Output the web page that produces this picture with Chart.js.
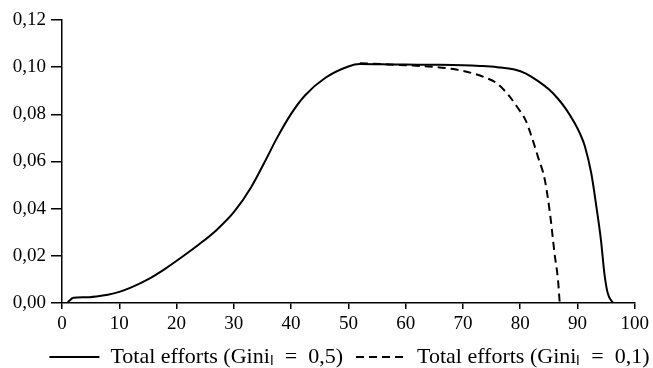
<!DOCTYPE html>
<html>
<head>
<meta charset="utf-8">
<script src="https://cdn.jsdelivr.net/npm/chart.js@4/dist/chart.umd.min.js"></script>
<style>
  html, body { margin: 0; padding: 0; background: #fff; }
  #wrap { width: 653px; height: 368px; position: relative; }
</style>
</head>
<body>
<div id="wrap"><canvas id="efforts"></canvas></div>
<script>
// Gini_L = 0,5 (solid)
const solidX = [1, 2, 4, 6, 8, 10, 12, 15, 18, 21, 24, 27, 30, 33, 35.5, 37.5, 40, 42.5, 46, 50, 52,
    56, 60, 65, 70, 73, 76, 79, 81, 83, 85, 86.6, 88, 89.5, 90.5, 91.3, 92.4, 93.3, 94.1, 94.7, 95.3, 96.2];
const solidY = [0.0003, 0.0022, 0.0024, 0.0028, 0.0035, 0.0047, 0.0065, 0.0100, 0.0145, 0.0196, 0.0250,
    0.0310, 0.0385, 0.0490, 0.0603, 0.0698, 0.0802, 0.0882, 0.0955, 0.1003, 0.1013,
    0.1012, 0.1011, 0.1010, 0.1008, 0.1005, 0.1000, 0.0990, 0.0973, 0.0943, 0.0906, 0.0866, 0.0822,
    0.0763, 0.0715, 0.0664, 0.0551, 0.0409, 0.0267, 0.0125, 0.0040, 0];

// Gini_L = 0,1 (dashed)
const dashedX = [52, 56, 60, 64, 68, 70, 72, 74, 76, 78, 79.5, 81, 82, 83.1, 84.3, 85.2, 86, 86.6, 86.9];
const dashedY = [0.1017, 0.1013, 0.1008, 0.1003, 0.0993, 0.0984, 0.0972, 0.0955, 0.0930, 0.0880, 0.0830,
    0.0772, 0.0705, 0.0620, 0.0522, 0.0380, 0.0210, 0.0097, 0];

const seriesLabels = ["Total efforts (Giniₗ\u2002=\u20020,5)", "Total efforts (Giniₗ\u2002=\u20020,1)"];

const serif = "'Liberation Serif', 'Times New Roman', serif";
const tickFont = { family: serif, size: 19 };
const legendFont = { family: serif, size: 22 };

const toPoints = (xs, ys) => xs.map((x, i) => ({ x, y: ys[i] }));

// the legend row sits a bit right of the canvas centre in the original
const legendNudge = {
    id: "legendNudge",
    afterLayout(chart) {
        chart.legend.left += 31;
        chart.legend.right += 31;
    }
};

new Chart(document.getElementById("efforts"), {
    type: "line",
    data: {
        datasets: [
            {
                label: seriesLabels[0],
                data: toPoints(solidX, solidY),
                borderColor: "#000",
                borderWidth: 2,
                pointRadius: 0,
                cubicInterpolationMode: "monotone",
                fill: false
            },
            {
                label: seriesLabels[1],
                data: toPoints(dashedX, dashedY),
                borderColor: "#000",
                borderWidth: 2,
                borderDash: [8, 5],
                pointRadius: 0,
                cubicInterpolationMode: "monotone",
                fill: false
            }
        ]
    },
    options: {
        responsive: true,
        maintainAspectRatio: false,
        animation: false,
        layout: { padding: { top: 20, right: 16, bottom: -10, left: 0 } },
        scales: {
            x: {
                type: "linear",
                min: 0,
                max: 100,
                border: { color: "#000", width: 1.5 },
                grid: { drawOnChartArea: false, drawTicks: true, tickLength: 6, color: "#000", lineWidth: 1.5 },
                ticks: { stepSize: 10, color: "#000", font: tickFont, padding: 4, maxRotation: 0 },
                afterFit: (scale) => { scale.height = 30; }
            },
            y: {
                min: 0,
                max: 0.12,
                border: { color: "#000", width: 1.5 },
                grid: { drawOnChartArea: false, drawTicks: true, tickLength: 11, color: "#000", lineWidth: 1.5 },
                ticks: {
                    stepSize: 0.02,
                    color: "#000",
                    font: tickFont,
                    padding: 5,
                    callback: (v) => v.toFixed(2).replace(".", ",")
                },
                afterFit: (scale) => { scale.width = 62; }
            }
        },
        plugins: {
            legend: {
                position: "bottom",
                labels: {
                    color: "#000",
                    font: legendFont,
                    usePointStyle: true,
                    pointStyle: "line",
                    pointStyleWidth: 50,
                    padding: 13,
                    generateLabels: (chart) =>
                        Chart.defaults.plugins.legend.labels.generateLabels(chart).map((item) => ({
                            ...item,
                            lineDash: chart.data.datasets[item.datasetIndex].borderDash || [],
                            lineWidth: 2
                        }))
                }
            },
            tooltip: { enabled: false }
        }
    },
    plugins: [legendNudge]
});
</script>
</body>
</html>
